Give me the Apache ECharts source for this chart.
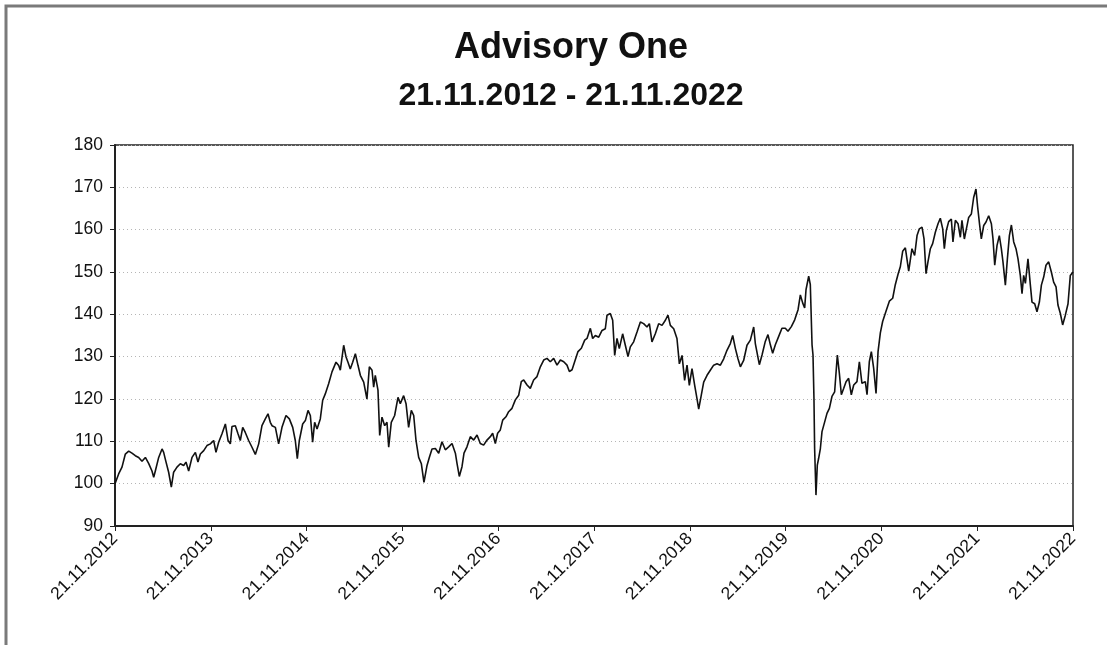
<!DOCTYPE html>
<html>
<head>
<meta charset="utf-8">
<script src="https://cdn.jsdelivr.net/npm/echarts@6/dist/echarts.min.js"></script>
<style>
html,body{margin:0;padding:0;background:#fff;}
#chart{width:1107px;height:645px;}
</style>
</head>
<body>
<div id="chart"></div>
<script>
// Years elapsed since 21.11.2012
var years = [
0,0.038,0.073,0.108,0.143,0.177,0.212,0.247,0.282,0.317,0.351,0.386,0.404,0.421,0.456,0.491,0.508,0.525,0.560,0.588,
0.612,0.647,0.682,0.717,0.741,0.769,0.804,0.839,0.866,0.891,0.926,0.960,0.995,1.030,1.054,1.082,1.117,1.152,1.180,1.204,
1.221,1.256,1.284,1.308,1.333,1.360,1.395,1.430,1.465,1.500,1.534,1.569,1.597,1.621,
1.639,1.674,1.708,1.743,1.785,1.820,1.855,1.882,1.903,1.924,1.959,1.987,2.015,2.039,2.063,2.084,2.109,2.143,2.168,2.195,
2.230,2.265,2.307,2.335,2.352,2.387,2.411,2.432,2.456,2.481,2.509,2.537,2.561,2.596,2.630,2.655,2.683,2.700,2.717,2.745,
2.763,2.787,2.815,2.839,2.857,2.884,2.919,2.954,2.978,3.013,3.038,3.065,3.093,3.118,3.142,3.170,3.198,3.225,3.257,3.281,3.309,
3.344,3.379,3.413,3.448,3.483,3.518,3.553,3.570,3.594,3.622,3.643,3.674,3.709,3.744,3.779,3.813,3.848,3.883,3.918,3.942,
3.970,3.994,4.022,4.047,4.081,4.109,4.144,4.179,4.214,4.241,4.266,4.301,4.335,4.370,4.405,4.440,4.475,4.509,4.544,4.579,
4.614,4.649,4.684,4.718,4.743,4.771,4.798,4.833,4.868,4.903,4.927,4.962,4.986,
5.014,5.049,5.084,5.118,5.136,5.170,5.195,5.216,5.240,5.264,5.299,5.327,5.355,5.379,5.414,5.449,5.484,5.518,5.553,5.578,
5.605,5.640,5.675,5.710,5.745,5.772,5.797,5.832,5.866,5.891,5.919,5.946,5.971,5.995,6.023,6.051,6.075,6.093,6.120,6.145,
6.180,6.214,6.249,6.284,6.319,6.354,6.388,6.423,6.448,6.476,6.503,6.528,6.562,6.597,6.632,6.667,6.684,
6.701,6.726,6.754,6.788,6.816,6.841,6.865,6.893,6.928,6.962,6.997,7.025,7.060,7.095,7.130,7.154,7.178,7.199,7.213,7.241,
7.258,7.276,7.286,7.296,7.303,7.317,7.331,7.345,7.363,7.380,7.408,7.432,7.457,7.484,7.512,7.540,7.561,7.582,7.606,7.631,
7.658,7.686,7.711,7.745,7.770,7.797,7.832,7.850,7.874,7.895,7.919,7.944,7.965,7.989,8.013,8.048,8.083,8.118,8.145,8.173,
8.198,8.222,8.250,8.285,
8.319,8.347,8.372,8.396,8.424,8.445,8.466,8.486,8.511,8.535,8.563,8.591,8.615,8.640,8.657,8.678,8.702,8.730,8.747,8.772,
8.800,8.824,8.841,8.866,8.887,8.911,8.939,8.963,8.987,9.005,9.026,9.043,9.068,9.092,9.120,9.148,9.165,9.183,9.207,9.231,
9.252,9.269,9.294,9.315,9.336,9.357,9.381,9.405,9.426,9.450,9.468,9.485,9.503,9.530,9.555,9.572,9.600,9.624,9.649,9.670,
9.694,9.718,9.746,9.774,9.798,9.823,9.843,9.868,9.892,9.920,9.948,9.972,10
];
// Fund value (start = 100)
var values = [
100,102.3,103.9,107,107.7,107.2,106.6,106.2,105.3,106.2,104.8,103,101.5,103,106.2,108.2,107.4,105.8,102.7,99.2,
102.7,103.9,104.7,104.3,105.1,103,106.2,107.4,105.1,107,107.8,109,109.4,110.2,107.4,109.8,111.8,114.1,110.2,109.4,
113.5,113.7,111.8,110.2,113.3,112.1,110.2,108.6,106.9,109.4,113.7,115.3,116.5,114.5,
113.7,113.3,109.4,113.3,116.1,115.3,113.3,110.2,105.9,110.2,114.1,114.9,117.3,116.1,109.8,114.5,112.9,115.3,119.7,121.2,
123.6,126.4,128.7,127.9,126.8,132.7,130,128.7,127.1,128.7,130.7,127.9,125.6,124,120,127.6,126.8,122.8,125.6,122.1,
111.4,115.7,113.7,114.5,108.6,114.5,116.1,120.4,118.9,120.8,118.9,113.3,117.3,116.1,110.2,106.2,104.7,100.3,104.3,106.2,108.2,
108.3,107.2,109.9,108,108.7,109.5,107.2,104.8,101.7,104,107.2,108.7,111.1,110.3,111.5,109.5,109.1,110.3,111.1,111.9,
109.5,111.9,112.7,115,115.8,117,117.8,119.8,120.9,124.1,124.5,123.3,122.5,124.5,125.3,127.6,129.2,129.6,128.8,129.6,
128,129.2,128.8,128,126.5,126.9,128.8,131.2,132,133.9,134.3,136.7,134.3,
135,134.6,136.2,136.6,139.8,140.2,138.6,130.3,134.3,131.9,135.4,132.7,130,132.3,133.5,135.8,138.2,137.8,137,137.8,
133.5,135.4,137.8,137.4,138.6,139.8,137.4,136.6,134.3,128.3,130.3,124.4,128,123.2,127.2,123.2,120.1,117.6,120.9,124,
125.6,126.8,128,128.3,128,129.5,131.5,133.1,135,131.9,129.5,127.6,129.1,132.7,133.9,137,133.1,
132.8,128.1,130.4,133.6,135.2,132.8,130.8,132.8,134.8,136.7,136.7,136,137.1,138.7,141.1,144.6,142.7,141.5,145.8,149,
147,132.8,130.4,120.2,108.3,97.3,104.4,106,108.3,112.3,114.6,116.6,117.8,120.6,121.7,130.4,126.1,121,122.5,124.1,
124.9,121,123.3,124.1,128.8,123.7,124.1,121,128.8,131.2,127.3,121.3,131.2,135.6,138.3,140.7,143.1,143.8,147,149.4,
151.3,154.9,155.7,150.2,
155.5,153.9,158.6,160.2,160.6,157.8,149.6,152.4,155.5,156.7,159.4,161.4,162.7,160.2,155.5,159.8,161.9,162.5,157.1,162.2,
161.4,158.2,162.2,157.8,160.2,162.9,163.7,167.6,169.6,165.3,161,157.8,161,161.8,163.3,161.4,157.8,151.6,156.3,158.6,
155.5,152.4,146.9,153.1,158.6,161.1,157.1,155.5,153.1,149.2,144.9,149.2,147.3,153.1,146.9,142.9,142.5,140.6,142.9,146.9,
148.8,151.6,152.4,150,147.6,146.5,142.2,140.2,137.5,139.8,142.5,149.2,150
];
var tickLabels = ['21.11.2012','21.11.2013','21.11.2014','21.11.2015','21.11.2016','21.11.2017',
  '21.11.2018','21.11.2019','21.11.2020','21.11.2021','21.11.2022'];
var titleText = 'Advisory One';
var subtitleText = '21.11.2012 - 21.11.2022';

var seriesData = years.map(function (t, i) { return [t, values[i]]; });

var chart = echarts.init(document.getElementById('chart'), null, {renderer: 'canvas'});
var font = '"Liberation Sans", Arial, sans-serif';
chart.setOption({
  animation: false,
  backgroundColor: '#ffffff',
  graphic: [{
    type: 'rect',
    shape: {x: 6, y: 6, width: 1120, height: 660},
    style: {fill: 'none', stroke: '#7a7a7a', lineWidth: 3},
    silent: true
  }],
  title: {
    text: titleText,
    subtext: subtitleText,
    left: 566,
    top: 25,
    textAlign: 'center',
    itemGap: 14,
    textStyle: {fontFamily: font, fontWeight: 'bold', fontSize: 36, color: '#111'},
    subtextStyle: {fontFamily: font, fontWeight: 'bold', fontSize: 32, color: '#111'}
  },
  grid: {
    left: 115, right: 34, top: 145, bottom: 119,
    show: true, borderColor: '#222', borderWidth: 1.5, backgroundColor: 'transparent'
  },
  xAxis: {
    type: 'value',
    min: 0, max: 10, interval: 1,
    axisLine: {show: true, lineStyle: {color: '#222', width: 2}},
    axisTick: {show: true, length: 5, lineStyle: {color: '#222'}},
    splitLine: {show: false},
    axisLabel: {
      rotate: 45, margin: 10,
      fontFamily: font, fontSize: 17.5, color: '#111',
      formatter: function (v) { return tickLabels[Math.round(v)] || ''; }
    }
  },
  yAxis: {
    type: 'value',
    min: 90, max: 180, interval: 10,
    axisLine: {show: true, lineStyle: {color: '#222', width: 2}},
    axisTick: {show: true, length: 5, lineStyle: {color: '#222'}},
    splitLine: {show: true, lineStyle: {color: '#b5b5b5', type: [1, 3], width: 1}},
    axisLabel: {fontFamily: font, fontSize: 17.5, color: '#111', margin: 12}
  },
  series: [{
    type: 'line',
    data: seriesData,
    showSymbol: false,
    symbol: 'none',
    lineStyle: {color: '#111', width: 1.6},
    smooth: false
  }]
});
</script>
</body>
</html>
